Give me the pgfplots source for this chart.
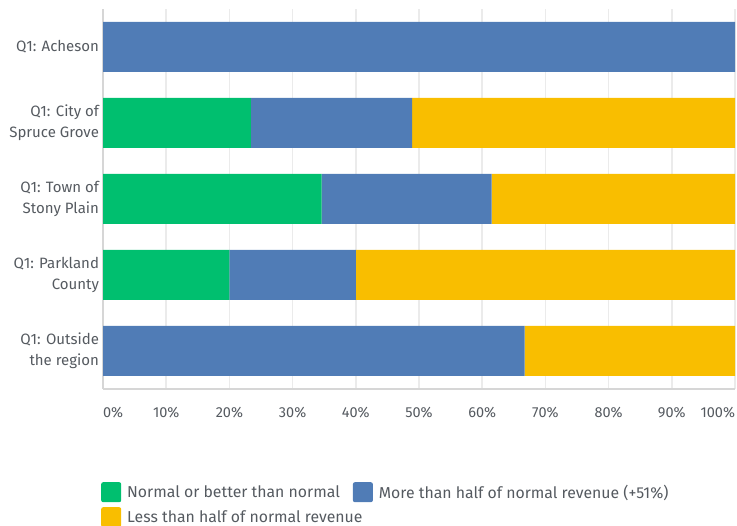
\documentclass[border=0pt]{standalone}
\usepackage{pgfplots}
\pgfplotsset{compat=1.18}
\usepackage{fontspec}
\setmainfont{Fira Sans}
\definecolor{smgreen}{HTML}{00BF6F}
\definecolor{smblue}{HTML}{507CB6}
\definecolor{smyellow}{HTML}{F9BE00}
\definecolor{txt}{HTML}{555A60}
\definecolor{gridc}{HTML}{EBEBEB}
\definecolor{axc}{HTML}{D6D6D6}

\begin{document}
\begin{tikzpicture}
\useasboundingbox (0pt,0pt) rectangle (737pt,-526pt);
\begin{axis}[
  at={(103pt,-389pt)}, anchor=south west,
  scale only axis, width=632pt, height=380pt,
  xbar stacked, bar width=50pt,
  xmin=0, xmax=100, ymin=-0.5, ymax=4.5,
  axis x line*=bottom, axis y line*=left,
  axis line style={-, draw=axc, line width=2pt},
  xmajorgrids, grid style={draw=gridc, line width=1.5pt},
  major tick length=0pt,
  xtick={0,10,...,100},
  xticklabels={\makebox[0pt][l]{0\%},10\%,20\%,30\%,40\%,50\%,60\%,70\%,80\%,90\%,\makebox[0pt][r]{100\%}},
  ytick={0,...,4},
  yticklabels={Q1: Outside\\the region, Q1: Parkland\\County, Q1: Town of\\Stony Plain, Q1: City of\\Spruce Grove, Q1: Acheson},
  xticklabel style={text=txt, font=\fontsize{14.5}{17}\selectfont, yshift=-15pt},
  yticklabel style={text=txt, font=\fontsize{15}{21}\selectfont, align=right, xshift=-0.5pt},
  legend style={at={(0,0)}, anchor=north west, xshift=-2pt, yshift=-93pt,
    draw=none, fill=none, inner sep=0pt, row sep=5pt, column sep=4pt,
    /tikz/every even column/.append style={column sep=11pt},
    font=\fontsize{15.8}{18}\selectfont, text=txt,
    nodes={inner sep=2pt}},
  legend columns=2, legend cell align=left,
  legend image code/.code={\fill[#1, rounded corners=2pt] (0pt,-10pt) rectangle (20pt,10pt);},
]
\addplot+[fill=smgreen, draw=none] coordinates {(0,0) (20,1) (34.6,2) (23.4,3) (0,4)};
\addplot+[fill=smblue, draw=none] coordinates {(66.7,0) (20,1) (26.9,2) (25.5,3) (100,4)};
\addplot+[fill=smyellow, draw=none] coordinates {(33.3,0) (60,1) (38.5,2) (51.1,3) (0,4)};
\legend{Normal or better than normal, More than half of normal revenue (+51\%), \makebox[0pt][l]{Less than half of normal revenue}}
\end{axis}
\end{tikzpicture}
\end{document}
